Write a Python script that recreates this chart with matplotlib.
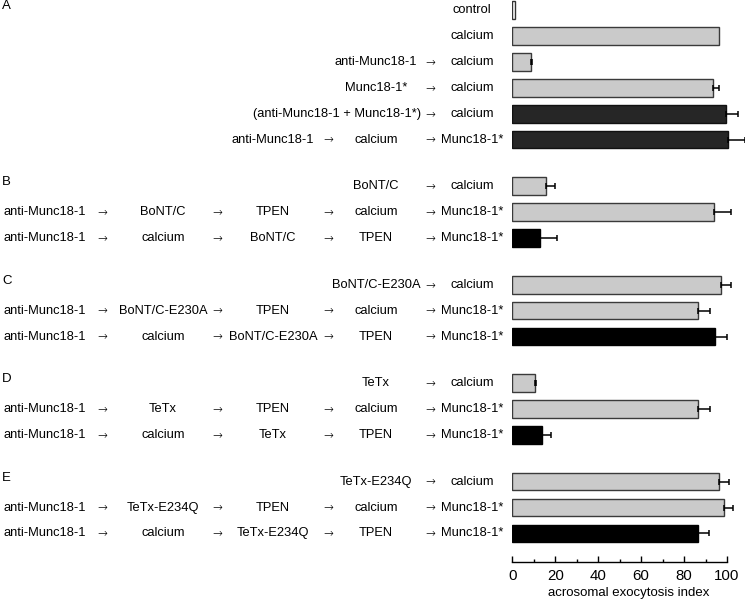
import matplotlib
matplotlib.use('Agg')
import matplotlib.pyplot as plt
import matplotlib.transforms as mtransforms
import numpy as np

plt.rcParams['font.family'] = ['Liberation Sans', 'DejaVu Sans']

# panel letters and how many rows each panel has
panels = ['A', 'B', 'C', 'D', 'E']
group_sizes = [6, 3, 3, 3, 3]

# treatment sequence for every row (read left to right)
steps = [
    ['control'],
    ['calcium'],
    ['anti-Munc18-1', 'calcium'],
    ['Munc18-1*', 'calcium'],
    ['(anti-Munc18-1 + Munc18-1*)', 'calcium'],
    ['anti-Munc18-1', 'calcium', 'Munc18-1*'],
    ['BoNT/C', 'calcium'],
    ['anti-Munc18-1', 'BoNT/C', 'TPEN', 'calcium', 'Munc18-1*'],
    ['anti-Munc18-1', 'calcium', 'BoNT/C', 'TPEN', 'Munc18-1*'],
    ['BoNT/C-E230A', 'calcium'],
    ['anti-Munc18-1', 'BoNT/C-E230A', 'TPEN', 'calcium', 'Munc18-1*'],
    ['anti-Munc18-1', 'calcium', 'BoNT/C-E230A', 'TPEN', 'Munc18-1*'],
    ['TeTx', 'calcium'],
    ['anti-Munc18-1', 'TeTx', 'TPEN', 'calcium', 'Munc18-1*'],
    ['anti-Munc18-1', 'calcium', 'TeTx', 'TPEN', 'Munc18-1*'],
    ['TeTx-E234Q', 'calcium'],
    ['anti-Munc18-1', 'TeTx-E234Q', 'TPEN', 'calcium', 'Munc18-1*'],
    ['anti-Munc18-1', 'calcium', 'TeTx-E234Q', 'TPEN', 'Munc18-1*'],
]

values = [1.2, 96.2, 8.9, 93.7, 99.6, 100.4,
          15.5, 94.0, 13.0,
          97.0, 86.4, 94.6,
          10.6, 86.4, 13.9,
          96.2, 98.8, 86.7]
errors = [0.0, 0.0, 0.5, 2.8, 5.4, 8.0,
          4.5, 7.8, 7.7,
          5.0, 5.9, 5.4,
          0.4, 5.9, 3.9,
          4.5, 3.8, 5.0]
kinds = ['control', 'gray', 'gray', 'gray', 'dark', 'dark',
         'gray', 'gray', 'black',
         'gray', 'gray', 'black',
         'gray', 'gray', 'black',
         'gray', 'gray', 'black']

fill = {'control': 'white', 'gray': '#cacaca', 'dark': '#262626', 'black': 'black'}
edge = {'control': '#333333', 'gray': '#3a3a3a', 'dark': '#111111', 'black': 'black'}

# row positions: consecutive inside a panel, extra gap between panels
gap = 0.8
ypos = []
starts = []
y = 0.0
for g, n in enumerate(group_sizes):
    if g > 0:
        y += gap
    starts.append(y)
    for i in range(n):
        ypos.append(y)
        y += 1
ypos = np.array(ypos)

fig = plt.figure(figsize=(7.45, 6.0), dpi=100)
W, H = 745, 600
px_unit = 2.147
ax = fig.add_axes([512.3 / W, 1 - 562 / H, 108 * px_unit / W, 562 / H])

ax.barh(ypos, values, height=0.68,
        color=[fill[k] for k in kinds], edgecolor=[edge[k] for k in kinds],
        linewidth=1.0, zorder=2)
has_err = np.array(errors) > 0
ax.errorbar(np.array(values)[has_err], ypos[has_err],
            xerr=[np.zeros(has_err.sum()), np.array(errors)[has_err]],
            fmt='none', ecolor='black', elinewidth=1.1, capsize=2.2, capthick=1.1,
            clip_on=False, zorder=3)

ax.set_xlim(0, 108)
ax.set_ylim(21.3, -0.39)
for s in ['top', 'right', 'left']:
    ax.spines[s].set_visible(False)
ax.spines['bottom'].set_bounds(0, 100)
ax.spines['bottom'].set_linewidth(1.0)
ax.set_yticks([])
ax.set_xticks(np.arange(0, 101, 20))
ax.set_xticks(np.arange(10, 100, 20), minor=True)
ax.tick_params(axis='x', which='major', direction='in', length=4, width=1.0,
               labelsize=10.8, pad=5)
ax.tick_params(axis='x', which='minor', direction='in', length=2, width=1.0)
ax.set_xlabel('acrosomal exocytosis index', fontsize=9.5, labelpad=3)

# left-hand treatment scheme
trans = mtransforms.blended_transform_factory(fig.transFigure, ax.transData)
text_slots = [45, 163, 273, 376, 472]
arrow_slots = [102, 217, 328, 430]
fs = 9.3
renderer = fig.canvas.get_renderer()
for row, yy in zip(steps, ypos):
    first = len(text_slots) - len(row)
    for j, name in enumerate(row):
        slot = first + j
        t = fig.text(text_slots[slot] / W, yy, name, transform=trans,
                     ha='center', va='center', fontsize=fs)
        if slot < len(arrow_slots):
            bb = t.get_window_extent(renderer)
            limit = arrow_slots[slot] - 9
            if bb.x1 > limit:
                t.set_ha('right')
                t.set_x(limit / W)
            fig.text(arrow_slots[slot] / W, yy - 0.04, '\u2192', transform=trans,
                     ha='center', va='center', fontsize=8.5, family='DejaVu Sans',
                     fontweight='light')

for letter, s in zip(panels, starts):
    fig.text(2 / W, s - 0.15, letter, transform=trans,
             ha='left', va='center', fontsize=9.5)

fig.savefig('out.png', dpi=100)
